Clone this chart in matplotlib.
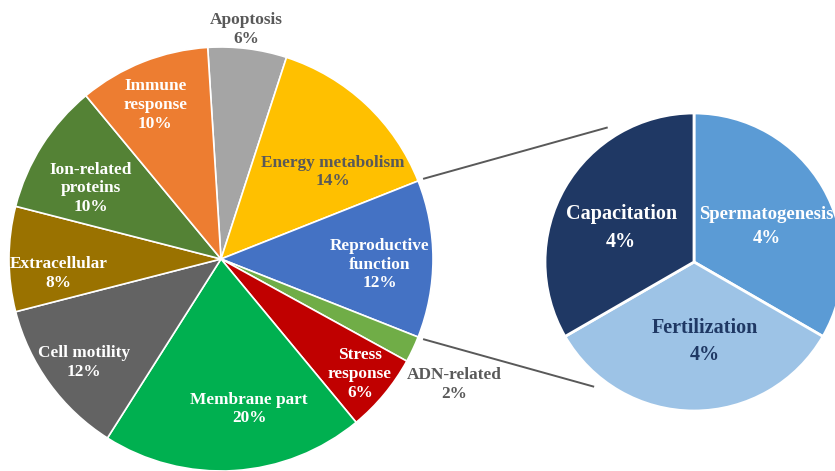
import numpy as np
import matplotlib.pyplot as plt

# data
categories = ["Apoptosis", "Energy metabolism", "Reproductive\nfunction", "ADN-related",
              "Stress\nresponse", "Membrane part", "Cell motility", "Extracellular",
              "Ion-related\nproteins", "Immune\nresponse"]
values = [6, 14, 12, 2, 6, 20, 12, 8, 10, 10]

sub_categories = ["Spermatogenesis", "Fertilization", "Capacitation"]
sub_values = [4, 4, 4]

# styles
colors = ["#A5A5A5", "#FFC000", "#4472C4", "#70AD47", "#C00000",
          "#00B050", "#636363", "#9A7200", "#548235", "#ED7D31"]
text_colors = ["#595959", "#595959", "white", "#595959", "white",
               "white", "white", "white", "white", "white"]
label_r = [1.09, 0.67, 0.75, 1.25, 0.85, 0.72, 0.81, 0.77, 0.70, 0.79]
label_dang = [1, -9, -2, -3, 0, 7, 1, 5, 4, 1.5]

sub_colors = ["#5B9BD5", "#9DC3E6", "#1F3864"]
sub_text_colors = ["white", "#1F3864", "white"]
sub_dang = [-4, 8, 5]

W, H = 835, 471
c1 = (221, H - 259)
r1 = 212
c2 = (694, H - 262)
r2 = 149

font = "Liberation Serif"

fig = plt.figure(figsize=(W / 100, H / 100), dpi=100)
ax = fig.add_axes([0, 0, 1, 1])

wedges, _ = ax.pie(values, colors=colors, startangle=93.6, counterclock=False,
                   center=c1, radius=r1,
                   wedgeprops=dict(edgecolor="white", linewidth=1.2))
for w, lab, val, tc, lr, da in zip(wedges, categories, values, text_colors, label_r, label_dang):
    mid = np.deg2rad((w.theta1 + w.theta2) / 2 + da)
    x = c1[0] + lr * r1 * np.cos(mid)
    y = c1[1] + lr * r1 * np.sin(mid)
    ax.text(x, y, f"{lab}\n{val}%", ha="center", va="center", color=tc,
            fontsize=12.4, fontweight="bold", family=font, linespacing=1.22)

sub_wedges, _ = ax.pie(sub_values, colors=sub_colors, startangle=90, counterclock=False,
                       center=c2, radius=r2,
                       wedgeprops=dict(edgecolor="white", linewidth=2))
for w, lab, val, tc, da in zip(sub_wedges, sub_categories, sub_values, sub_text_colors, sub_dang):
    mid = np.deg2rad((w.theta1 + w.theta2) / 2 + da)
    x = c2[0] + 0.54 * r2 * np.cos(mid)
    y = c2[1] + 0.54 * r2 * np.sin(mid)
    fs = 13.5 if lab == "Spermatogenesis" else 14.5
    ax.text(x, y, f"{lab}\n{val}%", ha="center", va="center", color=tc,
            fontsize=fs, fontweight="bold", family=font, linespacing=1.5)

# connector lines between the "Reproductive function" wedge and the sub pie
rep = wedges[2]
for a1, a2 in [(rep.theta2, 123), (rep.theta1, -129)]:
    a1, a2 = np.deg2rad(a1), np.deg2rad(a2)
    x0 = c1[0] + 1.03 * r1 * np.cos(a1)
    y0 = c1[1] + 1.03 * r1 * np.sin(a1)
    x1 = c2[0] + 1.075 * r2 * np.cos(a2)
    y1 = c2[1] + 1.075 * r2 * np.sin(a2)
    ax.plot([x0, x1], [y0, y1], color="#595959", linewidth=1.4)

ax.set_xlim(0, W)
ax.set_ylim(0, H)
ax.set_aspect("equal")
ax.axis("off")

fig.savefig("out.png", dpi=100)
